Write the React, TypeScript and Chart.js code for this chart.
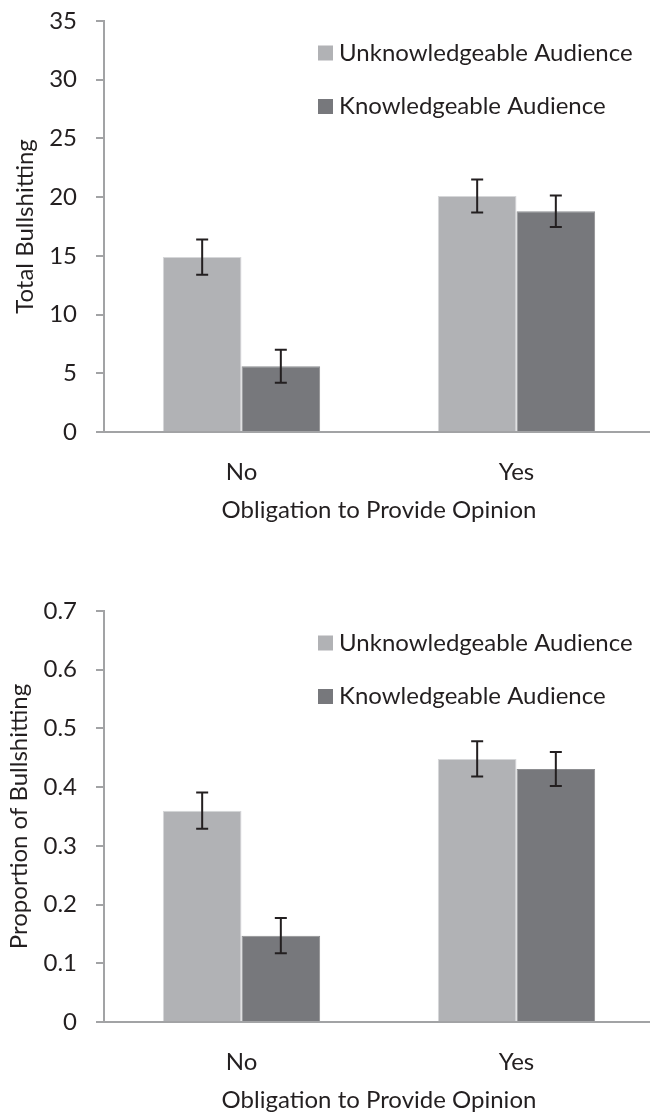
import React, { useEffect, useRef } from "react";
import { Chart, registerables } from "chart.js";

Chart.register(...registerables);

// ---------- data ----------
const categories = ["No", "Yes"];
const seriesLabels = ["Unknowledgeable Audience", "Knowledgeable Audience"];

const totalUnknowledgeable = [14.9, 20.1];
const totalKnowledgeable = [5.6, 18.8];
const totalUnknowledgeableErr = [1.5, 1.4];
const totalKnowledgeableErr = [1.4, 1.35];
const totalTicks = { min: 0, max: 35, step: 5 };

const propUnknowledgeable = [0.36, 0.448];
const propKnowledgeable = [0.147, 0.431];
const propUnknowledgeableErr = [0.031, 0.03];
const propKnowledgeableErr = [0.03, 0.029];
const propTicks = { min: 0, max: 0.7, step: 0.1 };

const xTitle = "Obligation to Provide Opinion";
const yTitleTotal = "Total Bullshitting";
const yTitleProp = "Proportion of Bullshitting";

// ---------- styles ----------
const FONT = "Lato, 'Liberation Sans', sans-serif";
const FONT_SIZE = 24;
const TEXT = "#231f20";
const AXIS = "#a2a3a5";
const LIGHT = "#b1b2b5";
const DARK = "#77787c";

const errorBarPlugin = {
  id: "errorBars",
  afterDatasetsDraw(chart: any) {
    const ctx = chart.ctx;
    const y = chart.scales.y;
    chart.data.datasets.forEach((ds: any, i: number) => {
      const meta = chart.getDatasetMeta(i);
      meta.data.forEach((el: any, j: number) => {
        const v = ds.data[j];
        const e = ds.errors[j];
        const top = y.getPixelForValue(v + e);
        const bot = y.getPixelForValue(v - e);
        ctx.save();
        ctx.strokeStyle = TEXT;
        ctx.lineWidth = 2;
        ctx.beginPath();
        ctx.moveTo(el.x, top);
        ctx.lineTo(el.x, bot);
        ctx.moveTo(el.x - 6, top);
        ctx.lineTo(el.x + 6, top);
        ctx.moveTo(el.x - 6, bot);
        ctx.lineTo(el.x + 6, bot);
        ctx.stroke();
        ctx.restore();
      });
    });
  },
};

const insideLegendPlugin = {
  id: "insideLegend",
  afterDraw(chart: any) {
    const ctx = chart.ctx;
    const area = chart.chartArea;
    const opts = chart.options.plugins.insideLegend;
    chart.data.datasets.forEach((ds: any, i: number) => {
      const cy = area.top + opts.firstRow + i * opts.rowGap;
      ctx.save();
      ctx.fillStyle = ds.backgroundColor;
      ctx.fillRect(opts.x, cy - 7.5, 15, 15);
      ctx.fillStyle = TEXT;
      ctx.font = `${FONT_SIZE}px ${FONT}`;
      ctx.textBaseline = "middle";
      ctx.textAlign = "left";
      ctx.fillText(ds.label, opts.x + 21, cy);
      ctx.restore();
    });
  },
};

function makeConfig(
  u: number[],
  k: number[],
  ue: number[],
  ke: number[],
  ticks: { min: number; max: number; step: number },
  yTitle: string,
  yTitlePad: number
): any {
  const font = { family: FONT, size: FONT_SIZE };
  return {
    type: "bar",
    data: {
      labels: categories,
      datasets: [
        {
          label: seriesLabels[0],
          data: u,
          errors: ue,
          backgroundColor: LIGHT,
          borderColor: "#d6d7d9",
          borderWidth: 1,
          categoryPercentage: 0.572,
          barPercentage: 1.0,
        },
        {
          label: seriesLabels[1],
          data: k,
          errors: ke,
          backgroundColor: DARK,
          borderColor: "#8d8e91",
          borderWidth: 1,
          categoryPercentage: 0.572,
          barPercentage: 1.0,
        },
      ],
    },
    options: {
      responsive: false,
      animation: false,
      devicePixelRatio: 1,
      layout: { padding: { top: 21, right: 1, bottom: 0, left: 0 } },
      plugins: {
        legend: { display: false },
        tooltip: { enabled: false },
        insideLegend: { x: 318, firstRow: 32, rowGap: 53.5 },
      },
      scales: {
        x: {
          offset: true,
          grid: { display: false, drawTicks: false },
          border: { display: true, color: AXIS, width: 2 },
          ticks: { color: TEXT, font, padding: 25.6 },
          title: {
            display: true,
            text: xTitle,
            color: TEXT,
            font,
            padding: { top: 4, bottom: 0 },
          },
          afterFit: (s: any) => {
            s.height = 93;
          },
        },
        y: {
          min: ticks.min,
          max: ticks.max,
          ticks: { stepSize: ticks.step, color: TEXT, font, padding: 19 },
          grid: {
            drawOnChartArea: false,
            drawTicks: true,
            tickLength: 8,
            color: AXIS,
            lineWidth: 2,
          },
          border: { display: true, color: AXIS, width: 2 },
          title: {
            display: true,
            text: yTitle,
            color: TEXT,
            font,
            padding: { top: yTitlePad, bottom: 0 },
          },
          afterFit: (s: any) => {
            s.width = 104;
            s.paddingTop = 0;
            s.paddingBottom = 0;
          },
        },
      },
    },
    plugins: [errorBarPlugin, insideLegendPlugin],
  };
}

function BarChart(props: { config: any; top: number }) {
  const ref = useRef<HTMLCanvasElement | null>(null);
  useEffect(() => {
    if (!ref.current) return;
    const chart = new Chart(ref.current, props.config);
    return () => chart.destroy();
  }, []);
  return (
    <canvas
      ref={ref}
      width={655}
      height={525}
      style={{ position: "absolute", left: 0, top: props.top, display: "block" }}
    />
  );
}

export default function App() {
  const c1 = makeConfig(
    totalUnknowledgeable,
    totalKnowledgeable,
    totalUnknowledgeableErr,
    totalKnowledgeableErr,
    totalTicks,
    yTitleTotal,
    10.6
  );
  const c2 = makeConfig(
    propUnknowledgeable,
    propKnowledgeable,
    propUnknowledgeableErr,
    propKnowledgeableErr,
    propTicks,
    yTitleProp,
    4.6
  );
  return (
    <div
      style={{
        position: "absolute",
        left: 0,
        top: 0,
        width: 650,
        height: 1115,
        overflow: "hidden",
        background: "#fff",
      }}
    >
      <BarChart config={c1} top={0} />
      <BarChart config={c2} top={590} />
    </div>
  );
}
